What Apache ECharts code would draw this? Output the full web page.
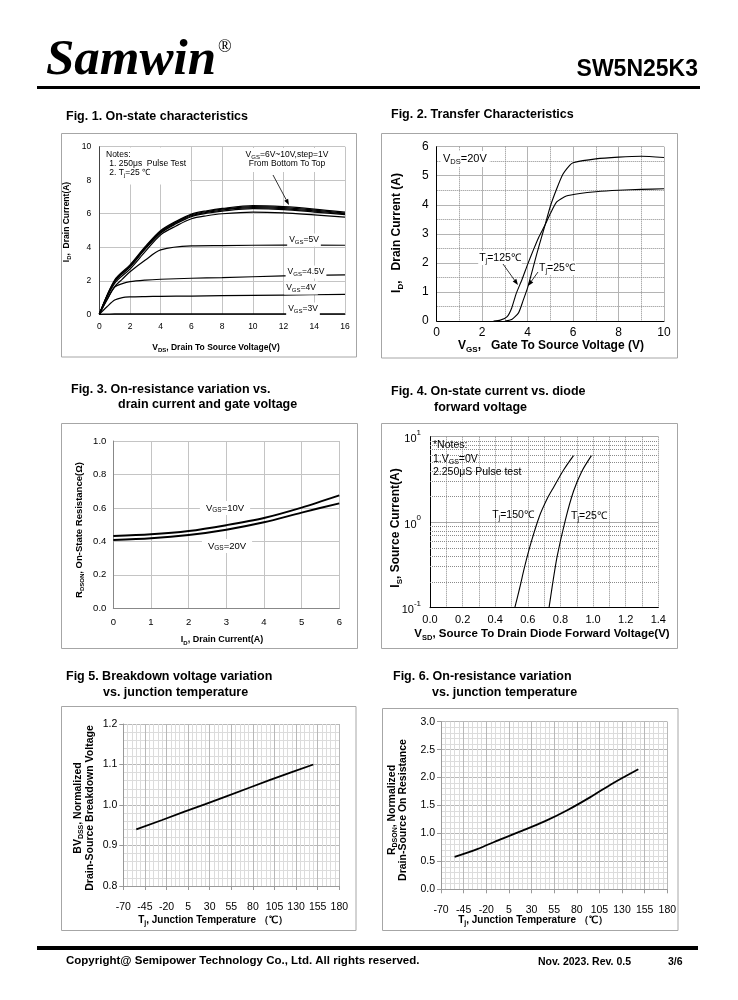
<!DOCTYPE html>
<html><head><meta charset="utf-8">
<script src="https://cdn.jsdelivr.net/npm/echarts@6/dist/echarts.min.js"></script>
<style>html,body{margin:0;padding:0;background:#fff}#c{width:738px;height:1000px}</style>
</head><body><div id="c"></div><script>
// ---------- DATA ----------
// Fig.1 On-state characteristics (VDS vs ID)
const fig1VdsHigh = [0,1,2,3,4,5,6,7,8,10,12,14,16];
const fig1Id10V = [0,2.05,2.95,4.05,5.0,5.55,5.98,6.18,6.32,6.48,6.42,6.28,6.10];
const fig1Id9V  = [0,2.00,2.90,4.00,4.95,5.50,5.93,6.13,6.27,6.42,6.37,6.22,6.04];
const fig1Id8V  = [0,1.97,2.86,3.95,4.90,5.45,5.88,6.08,6.22,6.36,6.31,6.16,5.99];
const fig1Id7V  = [0,1.94,2.82,3.90,4.85,5.40,5.83,6.03,6.16,6.30,6.25,6.10,5.95];
const fig1Id6V  = [0,1.85,2.70,3.75,4.75,5.27,5.70,5.88,6.00,6.10,6.05,5.93,5.80];
const fig1VdsLow = [0,0.5,1,1.5,2,3,4,6,8,12,16];
const fig1Id5V  = [0,0.88,1.65,2.10,2.54,3.24,3.84,4.08,4.10,4.13,4.12];
const fig1Id45V = [0,0.85,1.62,1.83,1.95,2.04,2.09,2.15,2.19,2.29,2.35];
const fig1Id4V  = [0,0.45,0.85,1.00,1.04,1.06,1.07,1.09,1.11,1.15,1.19];
const fig1Id3V  = [0,0.01,0.02,0.02,0.02,0.02,0.02,0.02,0.02,0.02,0.02];
// Fig.2 Transfer characteristics
const fig2Vgs125 = [2.5,2.8,3.1,3.3,3.5,3.75,4.0,4.25,4.5,4.77,5.0,5.28,5.7,6.3,7,8,9,10];
const fig2Id125  = [0,0.03,0.15,0.45,0.95,1.42,1.95,2.44,2.9,3.31,3.7,4.1,4.3,4.39,4.45,4.5,4.53,4.55];
const fig2Vgs25  = [3.0,3.3,3.6,3.8,4.0,4.2,4.4,4.6,4.77,5.0,5.28,5.55,5.85,6.0,7,8,9,10];
const fig2Id25   = [0,0.05,0.28,0.7,1.15,1.72,2.3,2.85,3.31,3.95,4.55,5.05,5.36,5.45,5.58,5.64,5.67,5.63];
// Fig.3 On-resistance vs drain current
const fig3Id = [0,1,2,3,4,5,6];
const fig3R10V = [0.432,0.442,0.462,0.497,0.540,0.602,0.675];
const fig3R20V = [0.408,0.418,0.438,0.470,0.514,0.572,0.627];
// Fig.4 Diode forward voltage (log current)
const fig4Vsd150 = [0.52,0.55,0.58,0.62,0.67,0.72,0.76,0.82,0.88];
const fig4Is150  = [0.1,0.17,0.30,0.58,1.16,1.9,2.6,4.1,6.0];
const fig4Vsd25  = [0.73,0.75,0.78,0.83,0.88,0.93,0.99];
const fig4Is25   = [0.1,0.18,0.40,1.06,2.3,3.9,6.0];
const fig4LogGrid = [0.2,0.3,0.4,0.5,0.6,0.7,0.8,0.9,2,3,4,5,6,7,8,9];
// Fig.5 Breakdown voltage vs Tj
const fig5Tj = [-55,-25,0,25,50,75,100,125,150];
const fig5Bv = [0.94,0.963,0.983,1.002,1.022,1.042,1.062,1.081,1.10];
// Fig.6 On-resistance vs Tj
const fig6Tj = [-55,-30,-5,20,45,70,95,120,148];
const fig6R  = [0.58,0.72,0.89,1.05,1.22,1.42,1.65,1.90,2.15];
const TJ_MIN = -70;

// ---------- CHART ----------
const F = '"Liberation Sans", Arial, sans-serif';
const FN = '"Liberation Sans Narrow", "Liberation Sans", Arial, sans-serif';
const chart = echarts.init(document.getElementById('c'), null, {renderer:'canvas', width:738, height:1000});

function line(ai, data, w, sm) {
  return {type:'line', xAxisIndex:ai, yAxisIndex:ai, data:data, symbol:'none', showSymbol:false,
    smooth:(sm === undefined ? 0.3 : sm), silent:true, z:5, lineStyle:{color:'#000', width:w}};
}
const pairs = (xs, ys) => xs.map((x,i)=>[x, ys[i]]);
const pairsTj = (xs, ys) => xs.map((x,i)=>[x - TJ_MIN, ys[i]]);
const pairsLog = (xs, ys) => xs.map((x,i)=>[x, Math.log10(ys[i])]);

function rich(size, bold, sub, fam) {
  const fw = bold ? 'bold' : 'normal';
  const L = Math.round(size*1.3);
  return {
    b:{fontSize:size, fontWeight:fw, fontFamily:fam||F, fill:'#000', color:'#000', lineHeight:L, verticalAlign:'middle'},
    s:{fontSize:sub, fontWeight:fw, fontFamily:fam||F, fill:'#000', color:'#000', lineHeight:sub+1, verticalAlign:'bottom'}
  };
}
function txt(x, y, text, o) {
  o = o || {};
  const st = {text:text, fill:'#000', font:o.font || ('9px ' + F), align:o.align||'left', verticalAlign:o.va||'middle'};
  if (o.rich) st.rich = o.rich;
  if (o.bg) { st.backgroundColor = o.bg; st.padding = o.pad || [1,2]; }
  return {type:'text', x:x, y:y, rotation:o.rot||0, z:o.z||60, silent:true, style:st};
}
function rect(x, y, w, h, o) {
  o = o || {};
  return {type:'rect', z:o.z||1, silent:true, shape:{x:x,y:y,width:w,height:h},
    style:{fill:o.fill||'none', stroke:o.stroke||null, lineWidth:o.lw||1}};
}
function arrow(x1,y1,x2,y2) {
  const a = Math.atan2(y2-y1, x2-x1), L = 6, W = 2.2;
  const bx = x2 - L*Math.cos(a), by = y2 - L*Math.sin(a);
  return [
    {type:'line', z:60, silent:true, shape:{x1:x1,y1:y1,x2:bx,y2:by}, style:{stroke:'#000', lineWidth:0.8}},
    {type:'polygon', z:60, silent:true, shape:{points:[[x2,y2],[bx - W*Math.sin(a), by + W*Math.cos(a)],[bx + W*Math.sin(a), by - W*Math.cos(a)]]}, style:{fill:'#000'}}
  ];
}
function axis(gi, min, max, interval, o) {
  o = o || {};
  return {
    gridIndex:gi, type:'value', min:min, max:max, interval:interval,
    axisLine:{show:true, onZero:false, lineStyle:{color:o.lineColor||'#000', width:1}},
    axisTick:{show:!!o.tick, length:4, inside:false, lineStyle:{color:o.lineColor||'#888'}},
    axisLabel:{show:true, fontSize:o.fs||9, fontFamily:o.fam||F, color:'#000', margin:o.margin||6,
      formatter:o.fmt, rich:o.labelRich, showMinLabel:true, showMaxLabel:true},
    splitLine:{show:true, lineStyle:{color:o.splitColor||'#c0c0c0', width:1, type:o.splitType||'solid'}},
    minorTick:{show:false, splitNumber:o.minor||5},
    minorSplitLine:{show:!!o.minor, lineStyle:{color:o.minorColor||'#aaa', width:1, type:o.minorType||'solid'}}
  };
}

const grids = [
  {left:99.3, top:146.7, width:245.7, height:167.6},
  {left:436.7, top:146.7, width:227.3, height:174.3},
  {left:113.3, top:441, width:226, height:167.3},
  {left:430, top:436.7, width:228.3, height:171},
  {left:123.3, top:724, width:216, height:162},
  {left:441, top:721.7, width:226.3, height:167.6}
].map(g => Object.assign(g, {containLabel:false, outerBoundsMode:'none', show:false}));

const xAxes = [
  axis(0, 0, 16, 2, {fs:8.5, margin:8, lineColor:'#444', splitColor:'#c4c4c4'}),
  axis(1, 0, 10, 2, {fs:12, margin:6, splitColor:'#b4b4b4', minor:2, minorType:'dotted', minorColor:'#8a8a8a'}),
  axis(2, 0, 6, 1, {fs:9.5, fam:FN, margin:9, lineColor:'#888', splitColor:'#c4c4c4'}),
  axis(3, 0, 1.4, 0.2, {fs:11, margin:7, splitType:'dotted', splitColor:'#8a8a8a', minor:2, minorType:'dotted', minorColor:'#8a8a8a', fmt:v=>v.toFixed(1)}),
  axis(4, 0, 250, 25, {fs:10.5, margin:16, tick:true, lineColor:'#999', splitColor:'#b8b8b8', minor:5, minorColor:'#dcdcdc', fmt:v=>String(Math.round(v + TJ_MIN))}),
  axis(5, 0, 250, 25, {fs:10.5, margin:15, tick:true, lineColor:'#999', splitColor:'#b8b8b8', minor:5, minorColor:'#dcdcdc', fmt:v=>String(Math.round(v + TJ_MIN))})
];
const yAxes = [
  axis(0, 0, 10, 2, {fs:8.5, margin:8, lineColor:'#444', splitColor:'#c4c4c4'}),
  axis(1, 0, 6, 1, {fs:12, margin:8, splitColor:'#b4b4b4', minor:2, minorType:'dotted', minorColor:'#8a8a8a'}),
  axis(2, 0, 1, 0.2, {fs:9.5, fam:FN, margin:7, lineColor:'#888', splitColor:'#c4c4c4', fmt:v=>v.toFixed(1)}),
  axis(3, -1, 1, 1, {margin:9, splitColor:'#a8a8a8',
     fmt:v=>'{b|10}{e|' + Math.round(v) + '}',
     labelRich:{b:{fontSize:11, fontFamily:F, color:'#000', lineHeight:16, verticalAlign:'bottom'},
                e:{fontSize:8, fontFamily:F, color:'#000', lineHeight:9, verticalAlign:'top'}}}),
  axis(4, 0.8, 1.2, 0.1, {fs:10.5, margin:6, tick:true, lineColor:'#999', splitColor:'#b8b8b8', minor:5, minorColor:'#dcdcdc', fmt:v=>v.toFixed(1)}),
  axis(5, 0, 3, 0.5, {fs:10.5, margin:6, tick:true, lineColor:'#999', splitColor:'#b8b8b8', minor:5, minorColor:'#dcdcdc', fmt:v=>v.toFixed(1)})
];

const series = [
  line(0, pairs(fig1VdsHigh, fig1Id10V), 1.2), line(0, pairs(fig1VdsHigh, fig1Id9V), 1.2), line(0, pairs(fig1VdsHigh, fig1Id8V), 1.2),
  line(0, pairs(fig1VdsHigh, fig1Id7V), 1.2), line(0, pairs(fig1VdsHigh, fig1Id6V), 1.2),
  line(0, pairs(fig1VdsLow, fig1Id5V), 1.2), line(0, pairs(fig1VdsLow, fig1Id45V), 1.2),
  line(0, pairs(fig1VdsLow, fig1Id4V), 1.2), line(0, pairs(fig1VdsLow, fig1Id3V), 1.2),
  line(1, pairs(fig2Vgs125, fig2Id125), 1.1, 0.2), line(1, pairs(fig2Vgs25, fig2Id25), 1.1, 0.2),
  line(2, pairs(fig3Id, fig3R10V), 2), line(2, pairs(fig3Id, fig3R20V), 2),
  {type:'line', xAxisIndex:3, yAxisIndex:3, data:[], silent:true, z:1,
   markLine:{silent:true, symbol:['none','none'], animation:false, label:{show:false},
     lineStyle:{color:'#8a8a8a', type:'dotted', width:1},
     data:fig4LogGrid.map(v=>({yAxis:Math.log10(v)}))}},
  line(3, pairsLog(fig4Vsd150, fig4Is150), 1.1), line(3, pairsLog(fig4Vsd25, fig4Is25), 1.1),
  line(4, pairsTj(fig5Tj, fig5Bv), 1.8, false),
  line(5, pairsTj(fig6Tj, fig6R), 1.8, 0.3)
];

// ---------- GRAPHIC (frames, titles, annotations) ----------
const TF = 'bold 12.5px ' + F;
const g = [];
// header
g.push(txt(46, 61, 'Samwin', {font:'bold italic 51px "Liberation Serif", "Times New Roman", serif'}));
g.push(txt(218, 47, '®', {font:'18px "Liberation Serif", serif'}));
g.push(txt(698, 70, 'SW5N25K3', {font:'bold 23px ' + F, align:'right'}));
g.push(rect(37, 86, 663, 3, {fill:'#000'}));
// footer
g.push(rect(37, 946, 661, 4, {fill:'#000'}));
g.push(txt(66, 961, 'Copyright@ Semipower Technology Co., Ltd. All rights reserved.', {font:'bold 11.5px ' + F}));
g.push(txt(538, 962, 'Nov. 2023. Rev. 0.5', {font:'bold 10.5px ' + F}));
g.push(txt(668, 962, '3/6', {font:'bold 10.5px ' + F}));
// frames
g.push(rect(61.5, 133.5, 295, 223.5, {stroke:'#a6a6a6'}));
g.push(rect(381.5, 133.5, 296, 224.5, {stroke:'#a6a6a6'}));
g.push(rect(61.5, 423.5, 296, 225, {stroke:'#a6a6a6'}));
g.push(rect(381.5, 423.5, 296, 225, {stroke:'#a6a6a6'}));
g.push(rect(61.5, 706.5, 294.5, 224, {stroke:'#a6a6a6'}));
g.push(rect(382.5, 708.5, 295.5, 222, {stroke:'#a6a6a6'}));
// figure titles
g.push(txt(66, 117, 'Fig. 1. On-state characteristics', {font:TF}));
g.push(txt(391, 115, 'Fig. 2. Transfer Characteristics', {font:TF}));
g.push(txt(71, 390, 'Fig. 3. On-resistance variation vs.', {font:TF}));
g.push(txt(118, 405, 'drain current and gate voltage', {font:TF}));
g.push(txt(391, 392, 'Fig. 4. On-state current vs. diode', {font:TF}));
g.push(txt(434, 408, 'forward voltage', {font:TF}));
g.push(txt(66, 677, 'Fig 5. Breakdown voltage variation', {font:TF}));
g.push(txt(103, 693, 'vs. junction temperature', {font:TF}));
g.push(txt(393, 677, 'Fig. 6. On-resistance variation', {font:TF}));
g.push(txt(432, 693, 'vs. junction temperature', {font:TF}));

// Fig.1 annotations
const r85 = rich(8.5, false, 6);
const r85b = rich(8.5, true, 6);
g.push(rect(100, 147.5, 90, 37, {fill:'#fff', z:40}));
g.push(txt(106, 155, 'Notes:', {font:'8.5px ' + F}));
g.push(txt(107, 164, ' 1. 250μs  Pulse Test', {font:'8.5px ' + F}));
g.push(txt(107, 173, '{b| 2. T}{s|j}{b|=25 ℃}', {rich:r85}));
g.push(rect(234, 148, 106, 24, {fill:'#fff', z:40}));
g.push(txt(287, 155, '{b|V}{s|GS}{b|=6V~10V,step=1V}', {rich:r85, align:'center'}));
g.push(txt(287, 164, 'From Bottom To Top', {font:'8.5px ' + F, align:'center'}));
arrow(273, 175, 289, 205).forEach(e => g.push(e));
g.push(txt(304, 240, '{b|V}{s|GS}{b|=5V}', {rich:r85, align:'center', bg:'#fff'}));
g.push(txt(306, 272, '{b|V}{s|GS}{b|=4.5V}', {rich:r85, align:'center', bg:'#fff'}));
g.push(txt(301, 288, '{b|V}{s|GS}{b|=4V}', {rich:r85, align:'center', bg:'#fff'}));
g.push(txt(303, 309, '{b|V}{s|GS}{b|=3V}', {rich:r85, align:'center', bg:'#fff'}));
g.push(txt(67, 222, '{b|I}{s|D}{b|,  Drain Current(A)}', {rich:r85b, align:'center', rot:Math.PI/2}));
g.push(txt(216, 348, '{b|V}{s|DS}{b|, Drain To Source Voltage(V)}', {rich:r85b, align:'center'}));

// Fig.2 annotations
const r11 = rich(11, false, 7.5);
const r12b = rich(12, true, 8);
g.push(txt(441, 159, '{b|V}{s|DS}{b|=20V}', {rich:r11, bg:'#fff', pad:[1,3,1,2]}));
g.push(txt(500, 258, '{b|T}{s|j}{b|=125℃}', {rich:rich(10.5,false,7), align:'center', bg:'#fff', pad:[0,1]}));
g.push(txt(557, 268, '{b|T}{s|j}{b|=25℃}', {rich:rich(10.5,false,7), align:'center', bg:'#fff', pad:[0,1]}));
arrow(503, 264, 518, 285).forEach(e => g.push(e));
arrow(538, 272, 528, 286).forEach(e => g.push(e));
g.push(txt(397, 233, '{b|I}{s|D}{b|,   Drain Current (A)}', {rich:r12b, align:'center', rot:Math.PI/2}));
g.push(txt(551, 346, '{b|V}{s|GS}{b|,   Gate To Source Voltage (V)}', {rich:r12b, align:'center'}));

// Fig.3 annotations
const r95n = rich(9.5, false, 6.5, FN);
const r9b = rich(9, true, 6);
g.push(txt(225, 508, '{b|V}{s|GS}{b|=10V}', {rich:r95n, align:'center', bg:'#fff', pad:[1,6]}));
g.push(txt(227, 546, '{b|V}{s|GS}{b|=20V}', {rich:r95n, align:'center', bg:'#fff', pad:[1,6]}));
g.push(txt(79, 530, '{b|R}{s|DSON}{b|, On-State Resistance(Ω)}', {rich:rich(9.5,true,6), align:'center', rot:Math.PI/2}));
g.push(txt(222, 640, '{b|I}{s|D}{b|, Drain Current(A)}', {rich:r9b, align:'center'}));

// Fig.4 annotations
const r105 = rich(10.5, false, 7);
g.push(txt(433, 445, '*Notes:', {font:'10.5px ' + F}));
g.push(txt(433, 459, '{b|1.V}{s|GS}{b|=0V}', {rich:r105}));
g.push(txt(433, 472, '2.250μS Pulse test', {font:'10.5px ' + F}));
g.push(txt(513, 515, '{b|T}{s|j}{b|=150℃}', {rich:r105, align:'center'}));
g.push(txt(589, 516, '{b|T}{s|j}{b|=25℃}', {rich:r105, align:'center'}));
g.push(txt(396, 528, '{b|I}{s|S}{b|, Source Current(A)}', {rich:r12b, align:'center', rot:Math.PI/2}));
g.push(txt(542, 634, '{b|V}{s|SD}{b|, Source To Drain Diode Forward Voltage(V)}', {rich:rich(11.5,true,7.5), align:'center'}));

// Fig.5 annotations
const r105b = rich(10.5, true, 7);
const r10b = rich(10, true, 7);
g.push(txt(78, 808, '{b|BV}{s|DSS}{b|, Normalized}', {rich:r105b, align:'center', rot:Math.PI/2}));
g.push(txt(90, 808, 'Drain-Source Breakdown Voltage', {font:'bold 10.5px ' + F, align:'center', rot:Math.PI/2}));
g.push(txt(213, 920, '{b|T}{s|j}{b|, Junction Temperature （℃）}', {rich:r10b, align:'center'}));

// Fig.6 annotations
g.push(txt(392, 810, '{b|R}{s|DSON}{b|, Normalized}', {rich:r105b, align:'center', rot:Math.PI/2}));
g.push(txt(403, 810, 'Drain-Source On Resistance', {font:'bold 10.5px ' + F, align:'center', rot:Math.PI/2}));
g.push(txt(533, 920, '{b|T}{s|j}{b|, Junction Temperature （℃）}', {rich:r10b, align:'center'}));

chart.setOption({
  animation:false,
  backgroundColor:'#fff',
  grid:grids,
  xAxis:xAxes,
  yAxis:yAxes,
  series:series,
  graphic:{elements:g}
});
</script></body></html>
